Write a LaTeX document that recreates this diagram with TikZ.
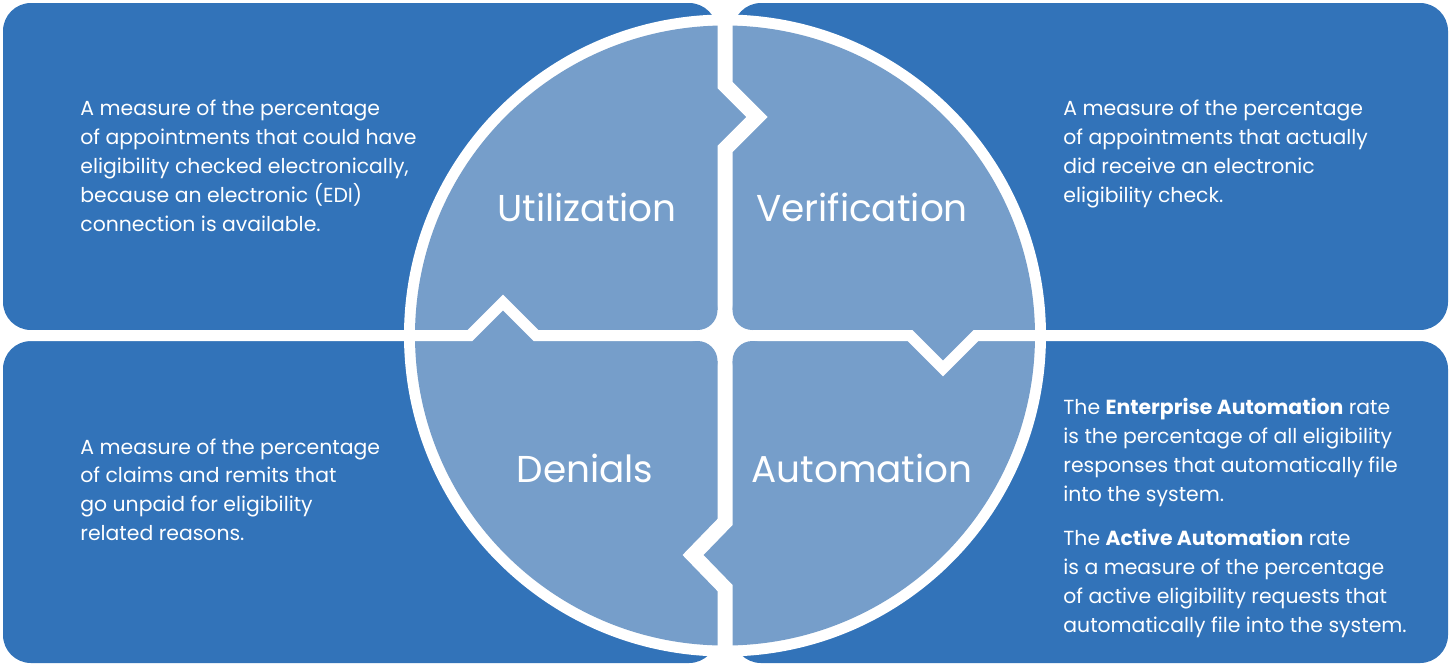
\documentclass[tikz,border=0pt]{standalone}
\usepackage{fontspec}
\setmainfont{Poppins}
\usetikzlibrary{calc}
\definecolor{panelblue}{RGB}{50,115,185}
\definecolor{wheelblue}{RGB}{118,158,202}
\tikzset{
  panel/.style={fill=panelblue, rounded corners=14pt},
  vgap/.style={draw=white, line width=7.5pt, line join=miter},
  hgap/.style={draw=white, line width=5.5pt, line join=miter},
  title/.style={text=white, inner sep=0pt, font=\fontsize{18.7}{22}\selectfont},
  blurb/.style={text=white, anchor=north west, inner sep=0pt, align=left,
    font=\fontsize{10.2}{14.5}\selectfont},
}

\begin{document}
\begin{tikzpicture}[x=0.5pt,y=-0.5pt]
\useasboundingbox (0,0) rectangle (1452,666);

% four panels
\foreach \xa/\ya/\xb/\yb in {3/3/717/330, 733/3/1448/330, 3/341/717/663, 733/341/1448/663}
  \fill[panel] (\xa,\ya) rectangle (\xb,\yb);

% wheel
\coordinate (hub) at (725,335.5);
\fill[white] (hub) circle[radius=321];
\fill[wheelblue] (hub) circle[radius=310];

% dividers with notches
\draw[vgap] (725,0) -- (725,85) -- (757,117) -- (725,149) -- (725,522)
  -- (693,555) -- (725,588) -- (725,666);
\draw[hgap] (0,335.5) -- (470,335.5) -- (503,302.5) -- (536,335.5) -- (910,335.5)
  -- (943,368.5) -- (976,335.5) -- (1452,335.5);

% rounded inner corners
\fill[white] ($(hub)+(-27.5,-25.5)$) rectangle ($(hub)+(27.5,25.5)$);
\foreach \sx/\sy in {-1/-1, 1/-1, -1/1, 1/1}
  \fill[wheelblue] ($(hub)+(\sx*27.5,\sy*25.5)$) circle[radius=20];

% quadrant names
\node[title] (util) at (587,207) {Utilization};
\node[title] (veri) at (862,207) {Verification};
\node[title] (deni) at (585,468) {Denials};
\node[title] (auto) at (862,468) {Automation};

% descriptions
\node[blurb] (utilTxt) at (80,100) {A measure of the percentage\\
  of appointments that could have\\eligibility checked electronically,\\
  because an electronic (EDI)\\connection is available.};
\node[blurb] (veriTxt) at (1063,100) {A measure of the percentage\\
  of appointments that actually\\did receive an electronic\\eligibility check.};
\node[blurb] (deniTxt) at (80,438) {A measure of the percentage\\
  of claims and remits that\\go unpaid for eligibility\\related reasons.};
\node[blurb] (autoTxt) at (1063,398) {The \textbf{Enterprise Automation} rate\\
  is the percentage of all eligibility\\responses that automatically file\\
  into the system.\\[7.5pt]
  The \textbf{Active Automation} rate\\is a measure of the percentage\\
  of active eligibility requests that\\automatically file into the system.};
\end{tikzpicture}
\end{document}
